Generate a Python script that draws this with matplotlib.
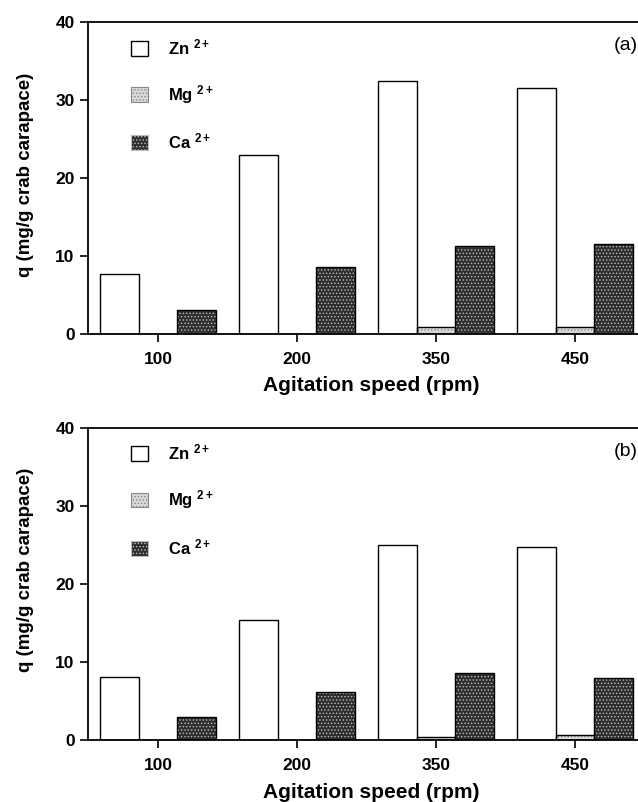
import matplotlib
matplotlib.use("Agg")
import matplotlib.pyplot as plt
from matplotlib.patches import Patch
import numpy as np

plt.rcParams['font.family'] = ['Liberation Sans', 'DejaVu Sans']
plt.rcParams['mathtext.fontset'] = 'custom'
plt.rcParams['mathtext.bf'] = 'Liberation Sans:bold'
plt.rcParams['mathtext.rm'] = 'Liberation Sans:bold'
plt.rcParams['mathtext.default'] = 'bf'
plt.rcParams['hatch.linewidth'] = 0.6

categories = ["100", "200", "350", "450"]
ions = ["Zn $^{2+}$", "Mg $^{2+}$", "Ca $^{2+}$"]

zn_a = [7.7, 22.9, 32.4, 31.6]
mg_a = [0.0, 0.0, 0.9, 0.9]
ca_a = [3.1, 8.6, 11.3, 11.5]

zn_b = [8.0, 15.3, 25.0, 24.7]
mg_b = [0.0, 0.0, 0.4, 0.6]
ca_b = [2.95, 6.15, 8.6, 7.95]

panels = [("(a)", zn_a, mg_a, ca_a, 0.51, -0.133),
          ("(b)", zn_b, mg_b, ca_b, 0.544, -0.140)]

fig = plt.figure(figsize=(6.38, 8.02), dpi=100)
axes_pos = [[0.1387, 0.5835, 0.8715, 0.389], [0.1387, 0.0777, 0.8715, 0.389]]

styles = [
    dict(face='white', hatch=None, hcol='white'),
    dict(face='#d9d9d9', hatch='.....', hcol='#888888'),
    dict(face='#2e2e2e', hatch='.....', hcol='#bbbbbb'),
]

w = 0.28
x = np.arange(len(categories))
for (label, zn, mg, ca, ylab_y, xlab_y), pos in zip(panels, axes_pos):
    ax = fig.add_axes(pos)
    for i, (vals, st) in enumerate(zip([zn, mg, ca], styles)):
        xx = x + (i - 1) * w
        if st['hatch']:
            ax.bar(xx, vals, width=w, color=st['face'], edgecolor=st['hcol'],
                   hatch=st['hatch'], linewidth=0, zorder=2)
        else:
            ax.bar(xx, vals, width=w, color=st['face'], linewidth=0, zorder=2)
        ax.bar(xx, vals, width=w, fill=False, edgecolor='black', linewidth=1.0, zorder=3)
    ax.set_xlim(-0.5, 3.5)
    ax.set_ylim(0, 40)
    ax.set_yticks([0, 10, 20, 30, 40])
    ax.set_xticks(x)
    ax.set_xticklabels(categories)
    for s in ['left', 'bottom', 'top']:
        ax.spines[s].set_linewidth(1.3)
    ax.spines['right'].set_visible(False)
    ax.tick_params(axis='both', direction='out', length=6, width=1.2,
                   labelsize=12.5, pad=4)
    for t in ax.get_xticklabels() + ax.get_yticklabels():
        t.set_fontweight('bold')
    ax.tick_params(axis='x', pad=7)
    ax.set_xlabel("Agitation speed (rpm)", fontsize=15, fontweight='bold')
    ax.xaxis.set_label_coords(0.509, xlab_y)
    ax.set_ylabel("q (mg/g crab carapace)", fontsize=13.5, fontweight='bold')
    ax.yaxis.set_label_coords(-0.098, ylab_y)
    ax.text(0.988, 0.925, label, transform=ax.transAxes,
            fontsize=14, ha='right', va='center')
    handles = [
        Patch(facecolor='white', edgecolor='black', linewidth=1.0),
        Patch(facecolor=styles[1]['face'], edgecolor=styles[1]['hcol'], hatch='.....', linewidth=0.8),
        Patch(facecolor=styles[2]['face'], edgecolor=styles[2]['hcol'], hatch='.....', linewidth=0.8),
    ]
    ax.legend(handles, ions, loc='upper left', bbox_to_anchor=(0.05, 1.0),
              frameon=False, prop={'weight': 'bold', 'size': 12},
              handlelength=1.0, handleheight=1.0,
              labelspacing=1.55, handletextpad=1.2)

fig.savefig("out.png", dpi=100)
